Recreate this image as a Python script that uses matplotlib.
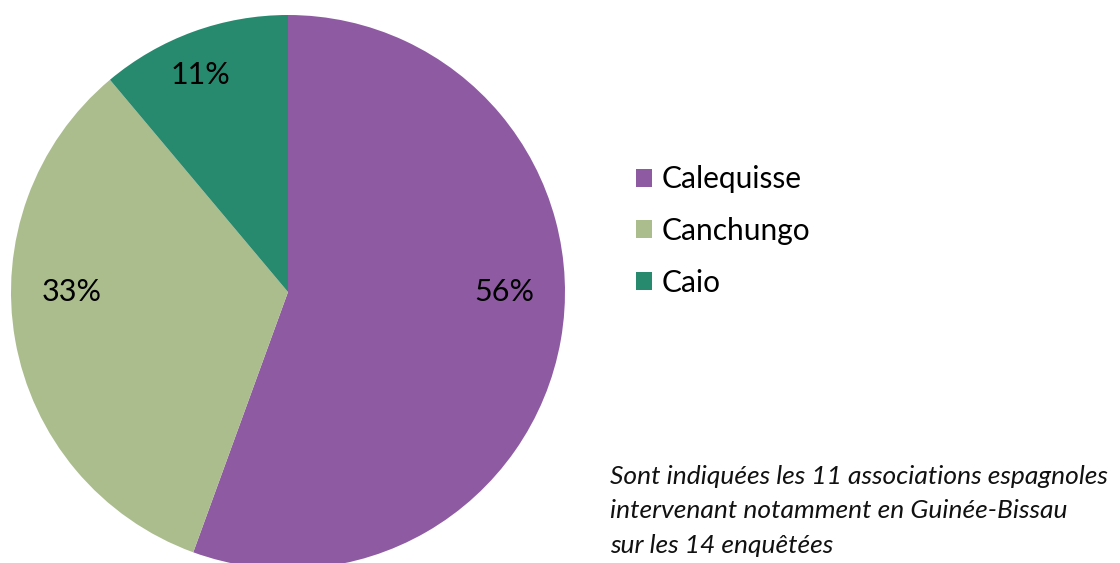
import matplotlib
matplotlib.use("Agg")
import matplotlib.pyplot as plt
import numpy as np
from matplotlib.patches import Patch

categories = ["Calequisse", "Canchungo", "Caio"]
values = [5, 3, 1]
colors = ["#8E5BA3", "#ABBC8D", "#278A6E"]
note = ("Sont indiquées les 11 associations espagnoles\n"
        "intervenant notamment en Guinée-Bissau\n"
        "sur les 14 enquêtées")

plt.rcParams['font.family'] = ['Lato', 'DejaVu Sans']

fig = plt.figure(figsize=(11.2, 5.63), dpi=100)
W, H = 1120, 563
cx, cy, r = 288, 292, 277
ax = fig.add_axes([(cx - r) / W, (H - cy - r) / H, 2 * r / W, 2 * r / H])
wedges, texts, autotexts = ax.pie(values, colors=colors, startangle=90, counterclock=False,
                                  radius=1, autopct=lambda p: f"{p:.0f}%",
                                  pctdistance=0.8, textprops=dict(fontsize=22, color="#000000"))
# label placement (angle in degrees, distance as fraction of radius)
label_pos = [(0, 0.78), (180, 0.78), (112, 0.845)]
for t, (a, d) in zip(autotexts, label_pos):
    t.set_position((d * np.cos(np.radians(a)), d * np.sin(np.radians(a))))
ax.set_xlim(-1, 1)
ax.set_ylim(-1, 1)
ax.set_aspect("equal")
ax.axis("off")

handles = [Patch(facecolor=c, edgecolor="none") for c in colors]
fig.legend(handles, categories, loc="center left", bbox_to_anchor=(636 / W, 1 - 231 / H),
           frameon=False, fontsize=21.5, handlelength=0.55, handleheight=0.55,
           handletextpad=0.3, labelspacing=0.8, borderaxespad=0, borderpad=0)

fig.text(610 / W, 1 - 511 / H, note, fontsize=19, style="italic", va="center", ha="left",
         linespacing=1.6, color="#111111")

fig.savefig("out.png", dpi=100)
